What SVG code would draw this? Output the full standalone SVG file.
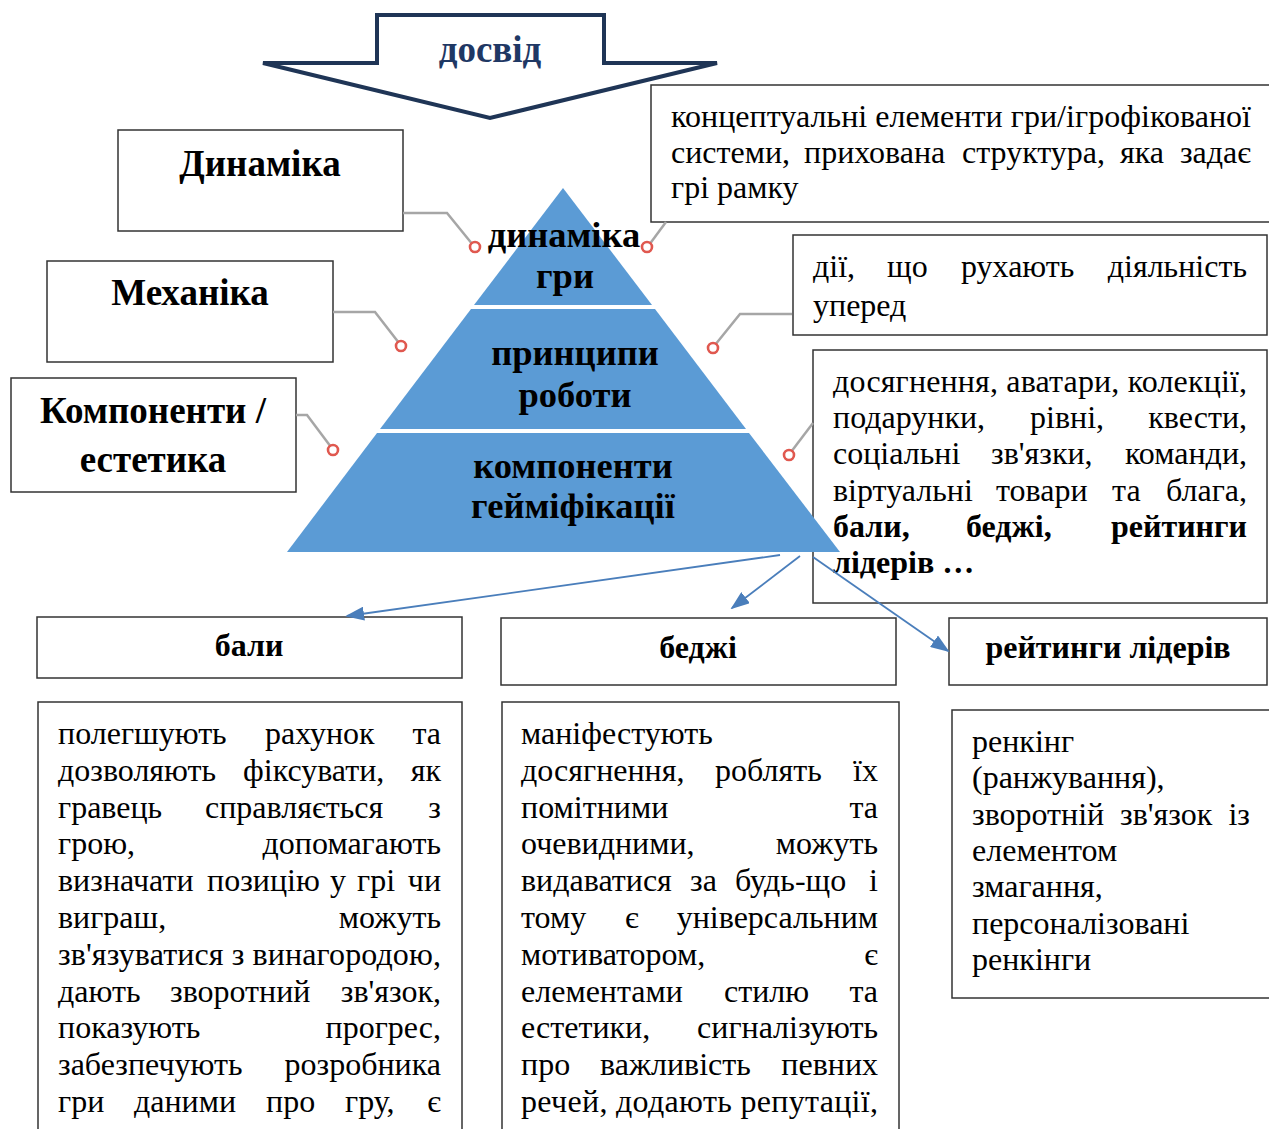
<svg xmlns="http://www.w3.org/2000/svg" width="1269" height="1129" viewBox="0 0 1269 1129">
<defs>
<style>
.box{fill:#fff;stroke:#333;stroke-width:1.5}
.t{font-family:"Liberation Serif","Times New Roman",serif;font-size:32px;fill:#000}
.b{font-weight:bold}
.e{text-anchor:end}
.m{text-anchor:middle}
.lbl{font-size:37px}
.py{font-family:"Liberation Serif","Times New Roman",serif;font-size:36.5px;font-weight:bold;fill:#000;text-anchor:middle}
.conn{stroke:#a6a6a6;stroke-width:2.5;fill:none}
.dot{fill:#fff;stroke:#e0584f;stroke-width:2.6}
.arr{stroke:#4a7ebb;stroke-width:1.8;fill:none;marker-end:url(#ah)}
.band{fill:#5b9bd5}
</style>
<marker id="ah" viewBox="0 0 10 10" refX="9" refY="5" markerWidth="19" markerHeight="14" markerUnits="userSpaceOnUse" orient="auto" preserveAspectRatio="none">
<path d="M0,0 L10,5 L0,10 z" fill="#4a7ebb"/>
</marker>
</defs>
<rect width="1269" height="1129" fill="#fff"/>

<g id="experience-arrow">
<polygon points="377,15 604,15 604,63 717,63 490,118 263,63 377,63" fill="#fff" stroke="#1f3556" stroke-width="4" stroke-linejoin="miter"/>
<text x="490" y="62" class="t b m" style="font-size:37px;fill:#1f3864">досвід</text>
</g>

<g id="node-dynamics">
<rect class="box" x="118" y="130" width="285" height="101"/>
<text x="260" y="176" class="t b m lbl">Динаміка</text>
</g>
<g id="node-mechanics">
<rect class="box" x="47" y="261" width="286" height="101"/>
<text x="190" y="305" class="t b m lbl">Механіка</text>
</g>
<g id="node-components">
<rect class="box" x="11" y="378" width="285" height="114"/>
<text x="153" y="423" class="t b m lbl">Компоненти /</text>
<text x="153" y="472" class="t b m lbl">естетика</text>
</g>

<g id="node-concept">
<rect class="box" x="651" y="85" width="620" height="137"/>
<text x="671" y="127" class="t" textLength="580" lengthAdjust="spacing">концептуальні елементи гри/ігрофікованої</text>
<text y="163" class="t"><tspan x="671">системи,</tspan><tspan x="804">прихована</tspan><tspan x="962">структура,</tspan><tspan x="1120">яка</tspan></text>
<text x="1251" y="163" class="t e">задає</text>
<text x="671" y="198" class="t">грі рамку</text>
</g>

<g id="node-actions">
<rect class="box" x="793" y="235" width="474" height="100"/>
<text y="277" class="t"><tspan x="813">дії,</tspan><tspan x="887">що</tspan><tspan x="961">рухають</tspan></text>
<text x="1247" y="277" class="t e">діяльність</text>
<text x="813" y="316" class="t">уперед</text>
</g>

<g id="node-elements">
<rect class="box" x="813" y="350" width="454" height="253"/>
<text x="833" y="392" class="t" textLength="414" lengthAdjust="spacing">досягнення, аватари, колекції,</text>
<text y="428" class="t"><tspan x="833">подарунки,</tspan><tspan x="1030">рівні,</tspan></text>
<text x="1247" y="428" class="t e">квести,</text>
<text y="464" class="t"><tspan x="833">соціальні</tspan><tspan x="991">зв'язки,</tspan></text>
<text x="1247" y="464" class="t e">команди,</text>
<text y="501" class="t"><tspan x="833">віртуальні</tspan><tspan x="996">товари</tspan><tspan x="1112">та</tspan></text>
<text x="1247" y="501" class="t e">блага,</text>
<text y="537" class="t b"><tspan x="833">бали,</tspan><tspan x="966">беджі,</tspan></text>
<text x="1247" y="537" class="t b e">рейтинги</text>
<text x="833" y="573" class="t b">лідерів …</text>
</g>

<g id="node-pyramid">
<polygon class="band" points="563,188 652,305 474,305"/>
<polygon class="band" points="471,309 655,309 746,429 380,429"/>
<polygon class="band" points="377,433 749,433 840,552 287,552"/>
<text x="564" y="247" class="py">динаміка</text>
<text x="565" y="288" class="py">гри</text>
<text x="575" y="365" class="py">принципи</text>
<text x="575" y="407" class="py">роботи</text>
<text x="573" y="478" class="py">компоненти</text>
<text x="573" y="518" class="py">гейміфікації</text>
</g>

<g id="node-points-head">
<rect class="box" x="37" y="617" width="425" height="61"/>
<text x="249" y="656" class="t b m">бали</text>
</g>
<g id="node-badges-head">
<rect class="box" x="501" y="618" width="395" height="67"/>
<text x="698" y="658" class="t b m">беджі</text>
</g>
<g id="node-leaders-head">
<rect class="box" x="949" y="618" width="318" height="67"/>
<text x="1108" y="658" class="t b m">рейтинги лідерів</text>
</g>

<g id="node-points-text">
<rect class="box" x="38" y="702" width="424" height="450"/>
<text y="744" class="t"><tspan x="58">полегшують</tspan><tspan x="265">рахунок</tspan></text>
<text x="441" y="744" class="t e">та</text>
<text y="781" class="t"><tspan x="58">дозволяють</tspan><tspan x="243">фіксувати,</tspan></text>
<text x="441" y="781" class="t e">як</text>
<text y="818" class="t"><tspan x="58">гравець</tspan><tspan x="205">справляється</tspan></text>
<text x="441" y="818" class="t e">з</text>
<text x="58" y="854" class="t">грою,</text>
<text x="441" y="854" class="t e">допомагають</text>
<text y="891" class="t"><tspan x="58">визначати</tspan><tspan x="207">позицію</tspan><tspan x="330">у</tspan><tspan x="357">грі</tspan></text>
<text x="441" y="891" class="t e">чи</text>
<text x="58" y="928" class="t">виграш,</text>
<text x="441" y="928" class="t e">можуть</text>
<text x="58" y="965" class="t" textLength="383" lengthAdjust="spacing">зв'язуватися з винагородою,</text>
<text y="1002" class="t"><tspan x="58">дають</tspan><tspan x="170">зворотний</tspan></text>
<text x="441" y="1002" class="t e">зв'язок,</text>
<text x="58" y="1038" class="t">показують</text>
<text x="441" y="1038" class="t e">прогрес,</text>
<text x="58" y="1075" class="t">забезпечують</text>
<text x="441" y="1075" class="t e">розробника</text>
<text y="1112" class="t"><tspan x="58">гри</tspan><tspan x="134">даними</tspan><tspan x="266">про</tspan><tspan x="345">гру,</tspan></text>
<text x="441" y="1112" class="t e">є</text>
</g>

<g id="node-badges-text">
<rect class="box" x="502" y="702" width="397" height="450"/>
<text x="521" y="744" class="t">маніфестують</text>
<text y="781" class="t"><tspan x="521">досягнення,</tspan><tspan x="715">роблять</tspan></text>
<text x="878" y="781" class="t e">їх</text>
<text x="521" y="818" class="t">помітними</text>
<text x="878" y="818" class="t e">та</text>
<text x="521" y="854" class="t">очевидними,</text>
<text x="878" y="854" class="t e">можуть</text>
<text y="891" class="t"><tspan x="521">видаватися</tspan><tspan x="690">за</tspan><tspan x="735">будь-що</tspan></text>
<text x="878" y="891" class="t e">і</text>
<text y="928" class="t"><tspan x="521">тому</tspan><tspan x="625">є</tspan></text>
<text x="878" y="928" class="t e">універсальним</text>
<text x="521" y="965" class="t">мотиватором,</text>
<text x="878" y="965" class="t e">є</text>
<text y="1002" class="t"><tspan x="521">елементами</tspan><tspan x="724">стилю</tspan></text>
<text x="878" y="1002" class="t e">та</text>
<text x="521" y="1038" class="t">естетики,</text>
<text x="878" y="1038" class="t e">сигналізують</text>
<text y="1075" class="t"><tspan x="521">про</tspan><tspan x="600">важливість</tspan></text>
<text x="878" y="1075" class="t e">певних</text>
<text x="521" y="1112" class="t" textLength="357" lengthAdjust="spacing">речей, додають репутації,</text>
</g>

<g id="node-leaders-text">
<rect class="box" x="952" y="710" width="320" height="288"/>
<text x="972" y="752" class="t">ренкінг</text>
<text x="972" y="788" class="t">(ранжування),</text>
<text y="825" class="t"><tspan x="972">зворотній</tspan><tspan x="1120">зв'язок</tspan></text>
<text x="1250" y="825" class="t e">із</text>
<text x="972" y="861" class="t">елементом</text>
<text x="972" y="897" class="t">змагання,</text>
<text x="972" y="934" class="t">персоналізовані</text>
<text x="972" y="970" class="t">ренкінги</text>
</g>

<g id="connectors">
<polyline class="conn" points="403,213 447,213 473,245"/>
<polyline class="conn" points="333,312 375,312 399,343"/>
<polyline class="conn" points="296,415 307,415 331,447"/>
<polyline class="conn" points="666,222 649,245"/>
<polyline class="conn" points="792,314 740,314 715,345"/>
<polyline class="conn" points="813,423 791,452"/>
<circle class="dot" cx="475" cy="247" r="5"/>
<circle class="dot" cx="401" cy="346" r="5"/>
<circle class="dot" cx="333" cy="450" r="5"/>
<circle class="dot" cx="647" cy="247" r="5"/>
<circle class="dot" cx="713" cy="348" r="5"/>
<circle class="dot" cx="789" cy="455" r="5"/>
<line class="arr" x1="780" y1="555" x2="347" y2="616"/>
<line class="arr" x1="800" y1="556" x2="732" y2="608"/>
<line class="arr" x1="813" y1="557" x2="948" y2="651"/>
</g>
</svg>
